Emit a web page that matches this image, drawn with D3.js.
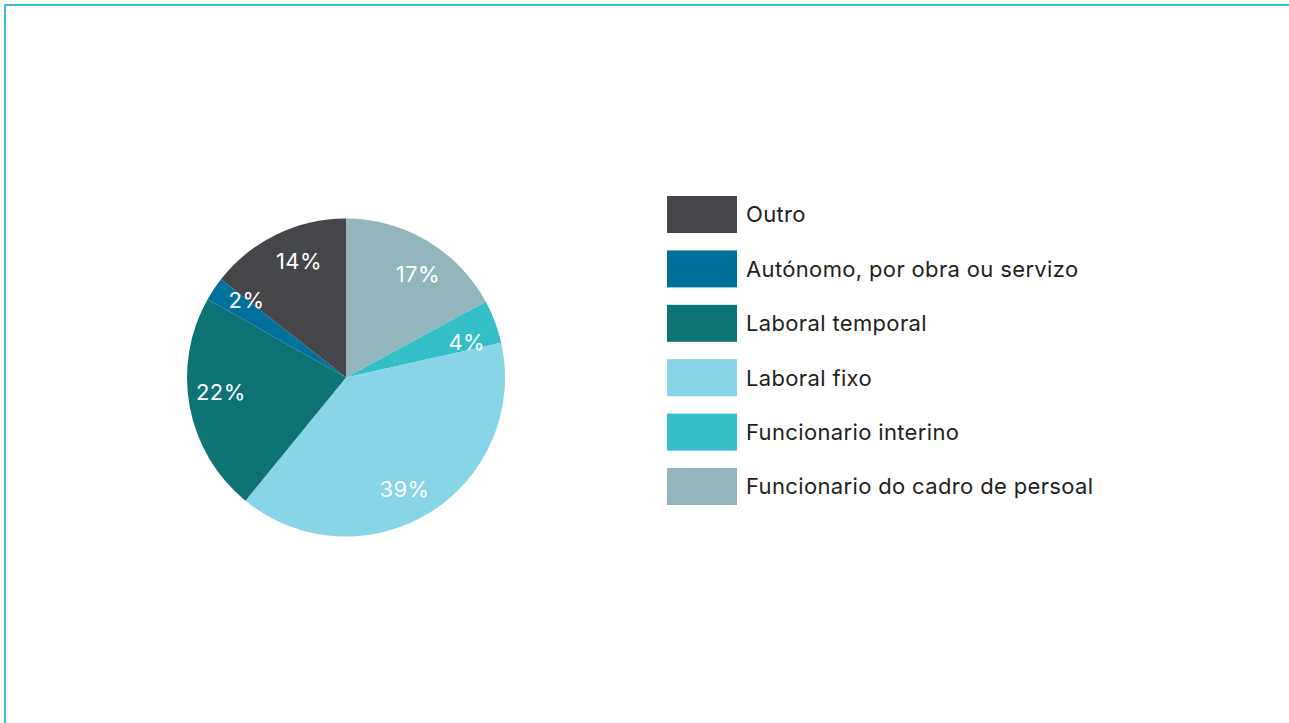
<!DOCTYPE html>
<html><head><meta charset="utf-8">
<script src="https://cdn.jsdelivr.net/npm/d3@7"></script>
<style>html,body{margin:0;padding:0;background:#fff;}svg{display:block;}</style>
</head><body>
<script>
// pie order: clockwise from 12 o'clock
const categories = ["Funcionario do cadro de persoal","Funcionario interino","Laboral fixo","Laboral temporal","Autónomo, por obra ou servizo","Outro"];
const values = [17.1, 4.4, 39.4, 22.3, 2.4, 14.4];
const labels = ["17%","4%","39%","22%","2%","14%"];
const colors = ["#92b6bc","#34bec8","#88d4e8","#0e7375","#00719a","#454649"];

const W = 1289, H = 723;
const svg = d3.select("body").append("svg").attr("width", W).attr("height", H);
const font = "Inter, 'DejaVu Sans', sans-serif";

// frame (top and left edges visible)
svg.append("rect").attr("x", 5).attr("y", 5).attr("width", W + 20).attr("height", H + 20)
  .attr("fill", "none").attr("stroke", "#3cbccb").attr("stroke-width", 2);

const cx = 346, cy = 377.5, r = 159;
const color = d3.scaleOrdinal().domain(categories).range(colors);
const pie = d3.pie().sort(null).value(d => d.v);
const data = categories.map((c, i) => ({c, v: values[i], l: labels[i]}));
const arcs = pie(data);
const arc = d3.arc().innerRadius(0).outerRadius(r);
const g = svg.append("g").attr("transform", `translate(${cx},${cy})`);
g.selectAll("path").data(arcs).join("path")
  .attr("d", arc).attr("fill", d => color(d.data.c));

const lr = 126, shift = 4 * Math.PI / 180;
g.selectAll("text").data(arcs).join("text")
  .attr("x", d => lr * Math.sin((d.startAngle + d.endAngle) / 2 + shift))
  .attr("y", d => -lr * Math.cos((d.startAngle + d.endAngle) / 2 + shift))
  .attr("dy", "0.36em")
  .attr("text-anchor", "middle")
  .attr("fill", "#fff").attr("font-family", font).attr("font-size", 22)
  .attr("letter-spacing", 0.4)
  .text(d => d.data.l);

// legend (reverse order)
const legendItems = data.slice().reverse();
const ly = d3.scaleBand().domain(legendItems.map(d => d.c)).range([196, 196 + 54.4 * 6]).paddingInner(0);
const lg = svg.append("g");
const items = lg.selectAll("g").data(legendItems).join("g")
  .attr("transform", d => `translate(667,${ly(d.c)})`);
items.append("rect").attr("width", 70).attr("height", 37).attr("fill", d => color(d.c));
items.append("text").attr("x", 79).attr("y", 18.5).attr("dy", "0.36em")
  .attr("fill", "#231f20").attr("font-family", font).attr("font-size", 22)
  .attr("letter-spacing", 0.35)
  .text(d => d.c);
</script>
</body></html>
